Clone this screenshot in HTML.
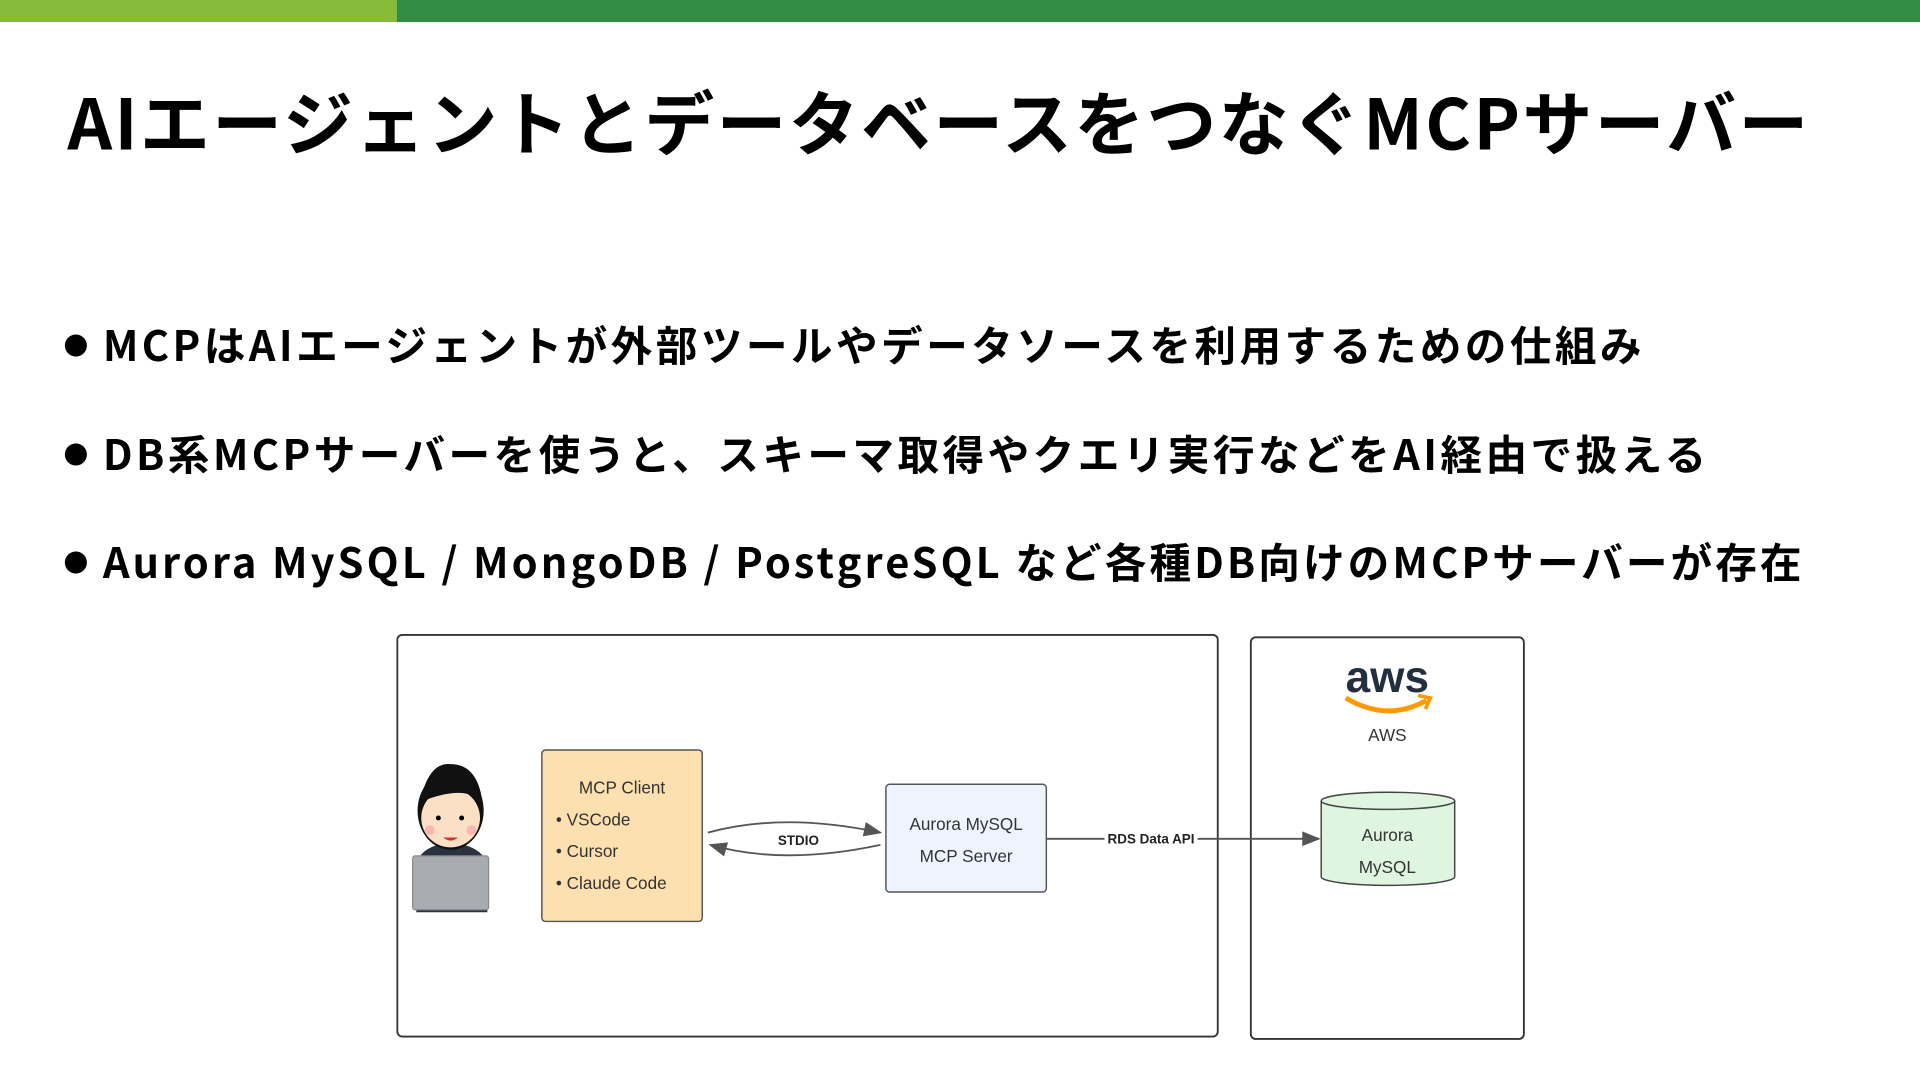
<!DOCTYPE html>
<html><head><meta charset="utf-8"><style>
html,body{margin:0;padding:0;background:#fff;overflow:hidden}
#w{width:1920px;height:1081px;position:relative;overflow:hidden}
#s{position:absolute;left:0;top:0;width:1568px;height:883px;transform:scale(1.22449);transform-origin:0 0;font-family:"Liberation Sans","Noto Sans CJK JP",sans-serif}
h1{position:absolute;left:55px;top:58px;margin:0;font-size:57px;font-weight:bold;font-family:"Noto Sans CJK JP","Liberation Sans",sans-serif;letter-spacing:2px;line-height:80px;white-space:nowrap}
.b{position:absolute;left:52px;font-size:34px;font-weight:bold;font-family:"Noto Sans CJK JP","Liberation Sans",sans-serif;line-height:50px;letter-spacing:2.8px;white-space:nowrap}
.b:before{content:"●";font-size:20px;margin-right:12px;vertical-align:5px;letter-spacing:0}
</style></head><body><div id="w"><div id="s">
<div style="position:absolute;left:0;top:0;width:324px;height:18px;background:#86bc3a"></div>
<div style="position:absolute;left:324px;top:0;width:1244px;height:18px;background:#338c44"></div>
<h1>AIエージェントとデータベースをつなぐMCPサーバー</h1>
<div class="b" style="top:256px">MCPはAIエージェントが外部ツールやデータソースを利用するための仕組み</div>
<div class="b" style="top:345px">DB系MCPサーバーを使うと、スキーマ取得やクエリ実行などをAI経由で扱える</div>
<div class="b" style="top:433px;letter-spacing:2.5px">Aurora MySQL / MongoDB / PostgreSQL など各種DB向けのMCPサーバーが存在</div>
<svg style="position:absolute;left:0;top:0" width="1568" height="883" font-family="Liberation Sans, sans-serif">
<defs><marker id="a" markerWidth="10" markerHeight="10" refX="9" refY="5" orient="auto"><path d="M0,1 L10,5 L0,9z" fill="#555"/></marker></defs>
<rect x="324.5" y="518.5" width="670" height="328" rx="4" fill="#fff" stroke="#333" stroke-width="1.5"/>
<rect x="1021.5" y="520.5" width="223" height="328" rx="4" fill="#fff" stroke="#333" stroke-width="1.5"/>
<text x="1133" y="565" text-anchor="middle" font-size="36" font-weight="bold" fill="#232f3e">aws</text>
<path d="M1099,570 Q1133,590 1165,572" fill="none" stroke="#f90" stroke-width="4"/>
<path d="M1158,568 L1168,570 L1164,579" fill="none" stroke="#f90" stroke-width="3"/>
<text x="1133" y="605" text-anchor="middle" font-size="14" fill="#333">AWS</text>
<path d="M1079,654 L1079,716 A54,7 0 0 0 1188,716 L1188,654" fill="#dff5df" stroke="#444" stroke-width="1.2"/>
<ellipse cx="1133.5" cy="654" rx="54.5" ry="7" fill="#dff5df" stroke="#444" stroke-width="1.2"/>
<text x="1133" y="687" text-anchor="middle" font-size="14" fill="#333">Aurora</text>
<text x="1133" y="713" text-anchor="middle" font-size="14" fill="#333">MySQL</text>
<rect x="442.5" y="612.5" width="131" height="140" rx="3" fill="#fde0b0" stroke="#555" stroke-width="1.2"/>
<text x="508" y="648" text-anchor="middle" font-size="14" fill="#333">MCP Client</text>
<text x="454" y="674" font-size="14" fill="#333">• VSCode</text>
<text x="454" y="700" font-size="14" fill="#333">• Cursor</text>
<text x="454" y="726" font-size="14" fill="#333">• Claude Code</text>
<rect x="723.5" y="640.5" width="131" height="88" rx="3" fill="#eef4fd" stroke="#555" stroke-width="1.2"/>
<text x="789" y="678" text-anchor="middle" font-size="14" fill="#333">Aurora MySQL</text>
<text x="789" y="704" text-anchor="middle" font-size="14" fill="#333">MCP Server</text>
<path d="M578,680 Q640,663 719,680" fill="none" stroke="#555" stroke-width="1.5" marker-end="url(#a)"/>
<path d="M719,690 Q640,707 580,690" fill="none" stroke="#555" stroke-width="1.5" marker-end="url(#a)"/>
<text x="652" y="690" text-anchor="middle" font-size="11" font-weight="bold" fill="#222">STDIO</text>
<line x1="855" y1="685" x2="1077" y2="685" stroke="#555" stroke-width="1.5" marker-end="url(#a)"/>
<rect x="902" y="679" width="76" height="12" fill="#fff"/>
<text x="940" y="689" text-anchor="middle" font-size="11" font-weight="bold" fill="#222">RDS Data API</text>
<g>
<path d="M340,745 L340,705 Q345,690 368,688 Q392,690 398,705 L398,745z" fill="#2a3140"/>
<ellipse cx="368" cy="662" rx="27" ry="32" fill="#111"/>
<ellipse cx="368" cy="668" rx="24" ry="24" fill="#fbe0c6"/>
<path d="M343,655 Q350,622 368,624 Q390,624 394,655 Q380,640 343,655z" fill="#111"/>
<circle cx="358" cy="668" r="2" fill="#000"/><circle cx="377" cy="668" r="2" fill="#000"/>
<circle cx="351" cy="678" r="4" fill="#f8b8b0"/><circle cx="385" cy="678" r="4" fill="#f8b8b0"/>
<path d="M362,684 Q368,689 374,684" fill="#c33"/>
<rect x="337" y="699" width="62" height="44" rx="2" fill="#a8acb2" stroke="#888"/>
</g>
</svg>
</div></div></body></html>
